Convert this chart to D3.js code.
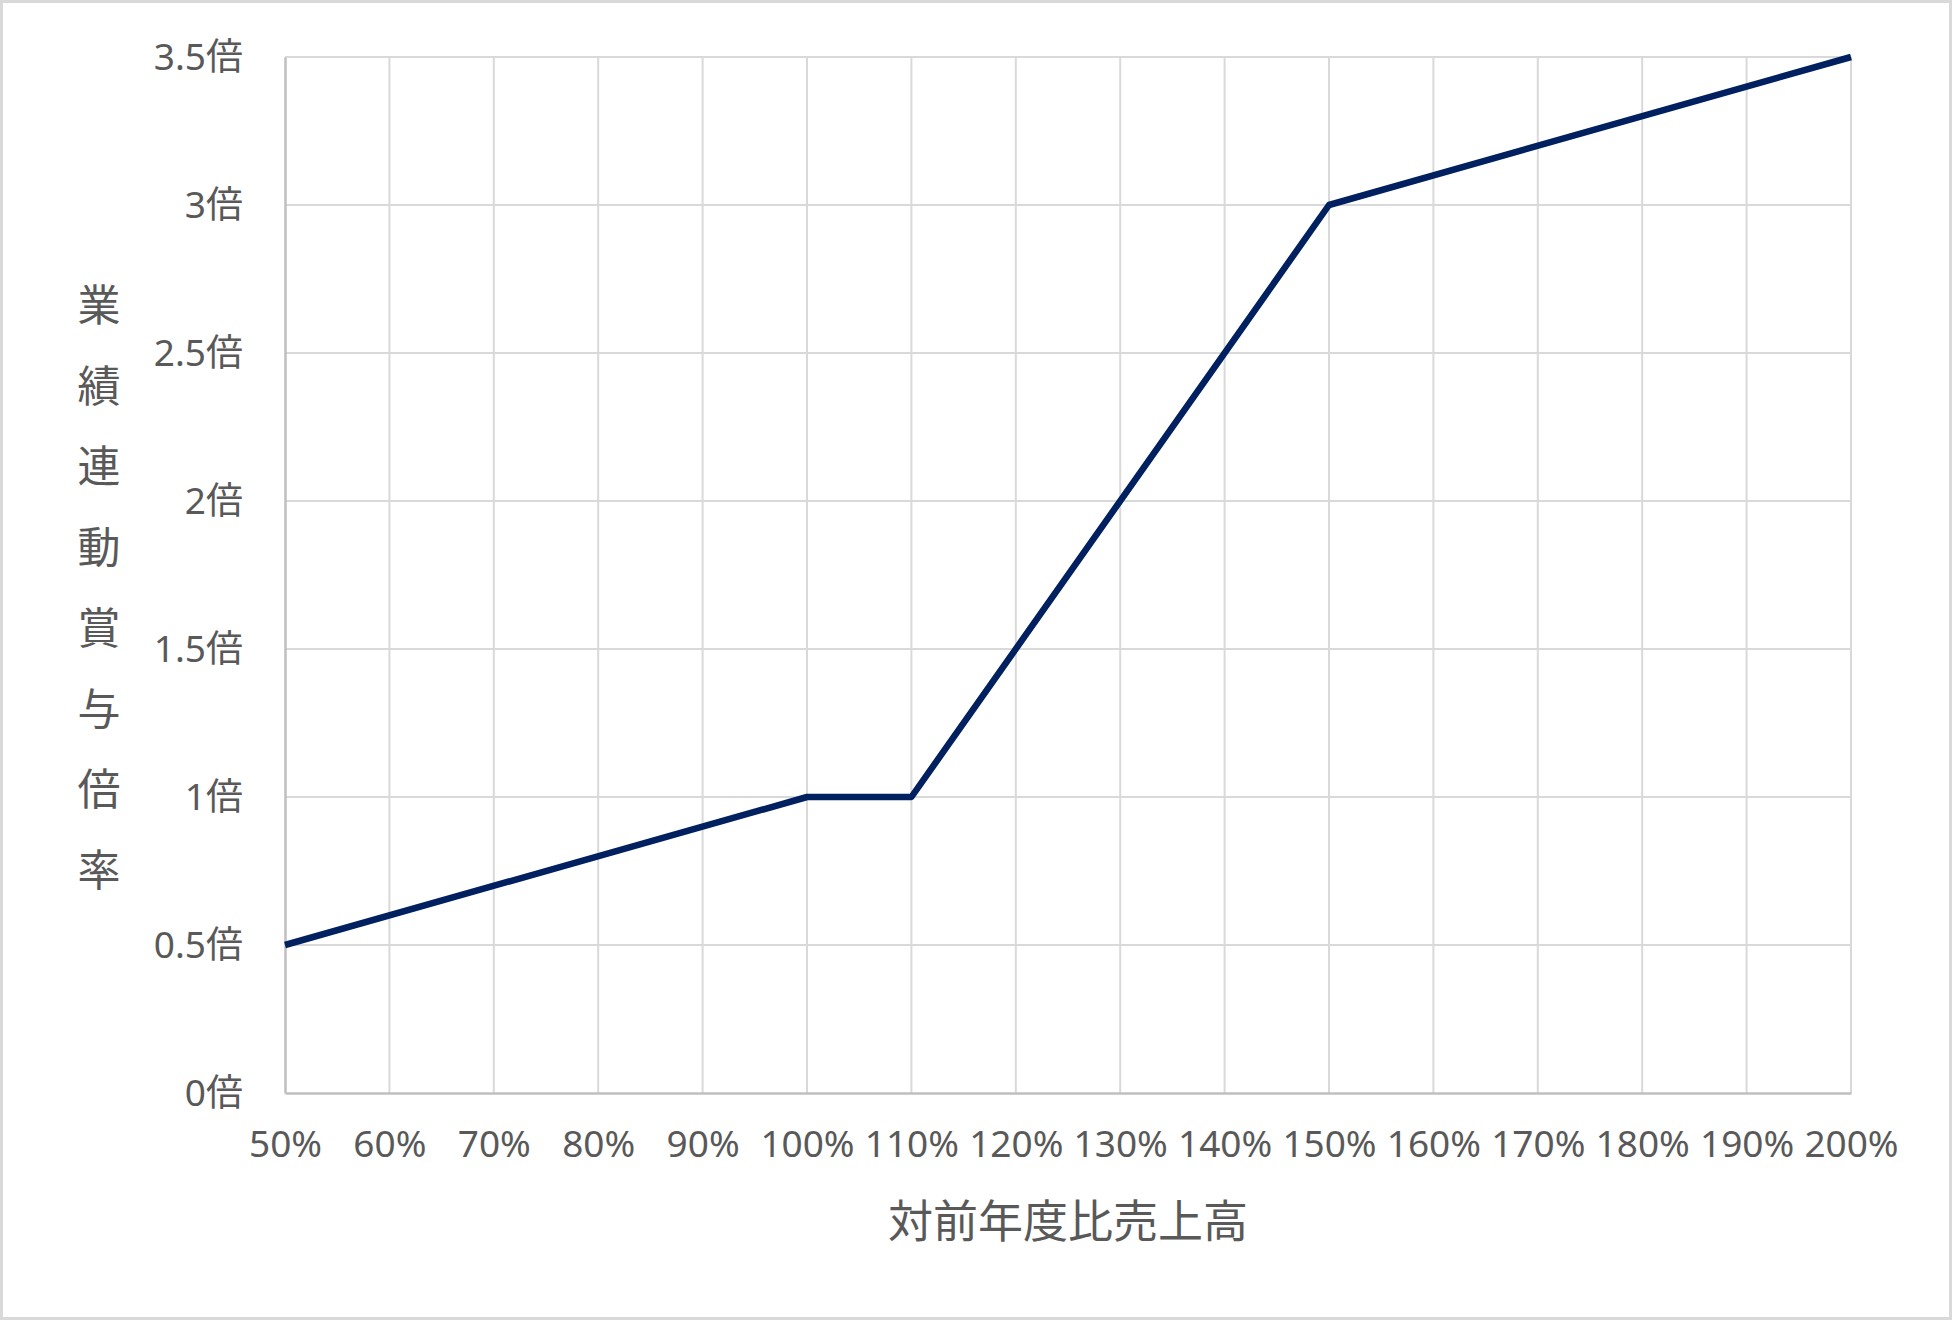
<!DOCTYPE html>
<html>
<head>
<meta charset="utf-8">
<script src="https://cdn.jsdelivr.net/npm/d3@7"></script>
<style>
  html, body { margin: 0; padding: 0; background: #fff; }
  svg { display: block; }
  text { font-family: "Noto Sans", "Noto Sans CJK JP", sans-serif; fill: #595959; }
</style>
</head>
<body>
<div id="chart"></div>
<script>
// sales vs previous year (%) and bonus multiplier at each breakpoint
const salesRatio = [50, 100, 110, 150, 200];
const bonusRate = [0.5, 1, 1, 3, 3.5];
const xTicks = [50, 60, 70, 80, 90, 100, 110, 120, 130, 140, 150, 160, 170, 180, 190, 200];
const yTicks = [0, 0.5, 1, 1.5, 2, 2.5, 3, 3.5];
const xTitle = '対前年度比売上高';
const yTitle = '業績連動賞与倍率';

const W = 1952, H = 1320;
const margin = { top: 57, right: 101, bottom: 227, left: 285 };
const innerW = W - margin.left - margin.right;
const innerH = H - margin.top - margin.bottom;

const svg = d3.select('#chart')
    .append('svg')
    .attr('width', W)
    .attr('height', H);

// chart border
svg.append('rect')
    .attr('x', 1.5)
    .attr('y', 1.5)
    .attr('width', W - 3)
    .attr('height', H - 3)
    .attr('fill', 'none')
    .attr('stroke', '#d9d9d9')
    .attr('stroke-width', 3);

const g = svg.append('g')
    .attr('transform', `translate(${margin.left},${margin.top})`);

const x = d3.scaleLinear().domain([50, 200]).range([0, innerW]);
const y = d3.scaleLinear().domain([0, 3.5]).range([innerH, 0]);

// gridlines
g.append('g')
    .selectAll('line')
    .data(yTicks.filter(d => d > 0))
    .enter()
    .append('line')
    .attr('x1', 0)
    .attr('x2', innerW)
    .attr('y1', d => y(d))
    .attr('y2', d => y(d))
    .attr('stroke', '#d9d9d9')
    .attr('stroke-width', 2);

g.append('g')
    .selectAll('line')
    .data(xTicks.filter(d => d > 50))
    .enter()
    .append('line')
    .attr('x1', d => x(d))
    .attr('x2', d => x(d))
    .attr('y1', 0)
    .attr('y2', innerH)
    .attr('stroke', '#d9d9d9')
    .attr('stroke-width', 2);

// axes
const xAxis = g.append('g')
    .attr('transform', `translate(0,${innerH})`)
    .call(d3.axisBottom(x).tickValues(xTicks).tickSize(0).tickPadding(38).tickFormat(d => d + '%'));
const yAxis = g.append('g')
    .call(d3.axisLeft(y).tickValues(yTicks).tickSize(0).tickPadding(42).tickFormat(d => d + '倍'));

[xAxis, yAxis].forEach(a => {
    a.select('.domain').attr('stroke', '#bfbfbf').attr('stroke-width', 2.5);
    a.selectAll('text')
        .attr('fill', '#595959')
        .style('font-size', '37px');
});
xAxis.selectAll('text').attr('dy', '0.71em');
yAxis.selectAll('text').attr('dy', '0.35em');

// the line
const line = d3.line()
    .x((d, i) => x(salesRatio[i]))
    .y(d => y(d));

g.append('path')
    .datum(bonusRate)
    .attr('d', line)
    .attr('fill', 'none')
    .attr('stroke', '#002060')
    .attr('stroke-width', 6.5)
    .attr('stroke-linejoin', 'round');

// axis titles
svg.append('text')
    .attr('x', margin.left + innerW / 2)
    .attr('y', 1218)
    .attr('text-anchor', 'middle')
    .attr('dominant-baseline', 'central')
    .style('font-family', '"Noto Sans CJK JP", sans-serif')
    .style('font-size', '45px')
    .text(xTitle);

svg.append('g')
    .selectAll('text')
    .data(Array.from(yTitle))
    .enter()
    .append('text')
    .attr('x', 99)
    .attr('y', (d, i) => 302 + i * 80.7)
    .attr('text-anchor', 'middle')
    .attr('dominant-baseline', 'central')
    .style('font-family', '"Noto Sans CJK JP", sans-serif')
    .style('font-size', '43px')
    .text(d => d);
</script>
</body>
</html>
